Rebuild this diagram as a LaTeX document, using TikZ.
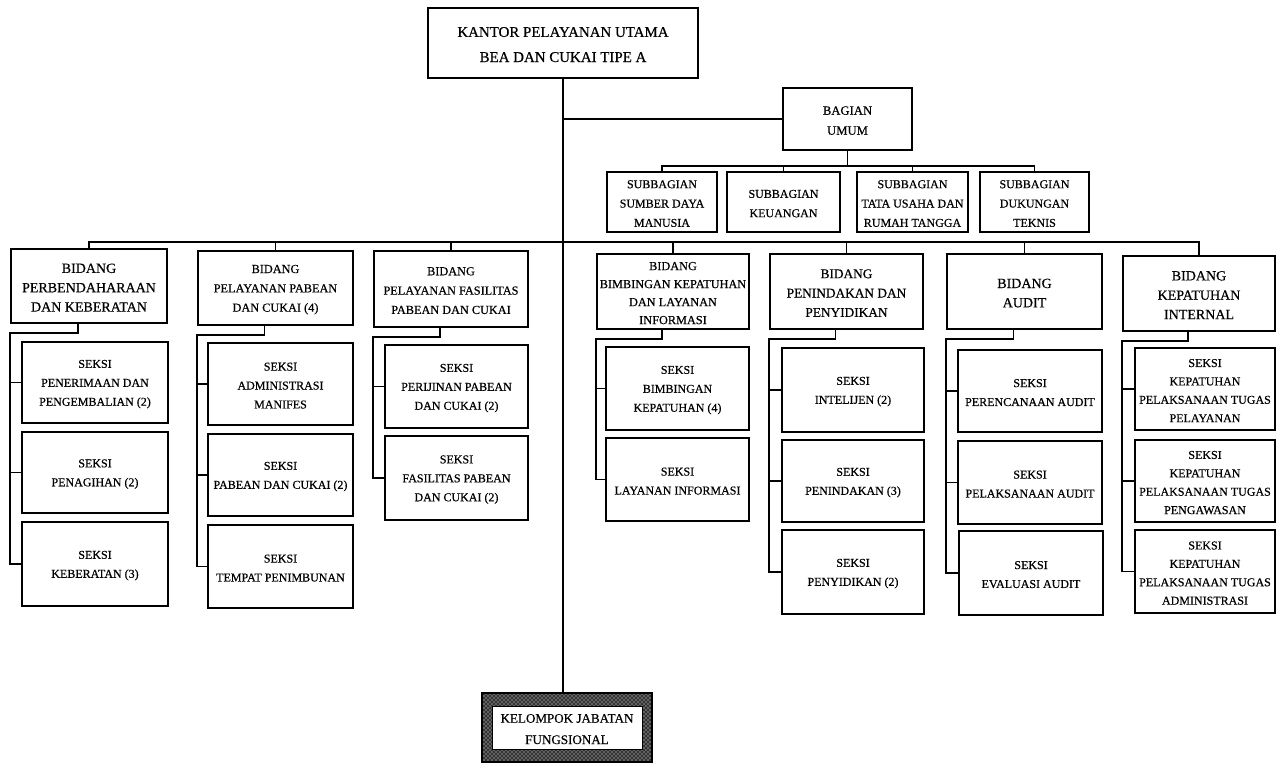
\documentclass[tikz,border=0pt]{standalone}
\usepackage{fontspec}
\setmainfont{Liberation Serif}[FakeBold=0.5]
\usetikzlibrary{fit,patterns}
\tikzset{
  boxst/.style={draw, line width=1.3pt, inner sep=0pt},
  txt/.style={inner sep=0pt, align=center, font=\fontsize{9}{14.2}\selectfont},
  bid/.style={font=\fontsize{9.2}{14.5}\selectfont},
  bidL/.style={font=\fontsize{10.5}{14.5}\selectfont},
  four/.style={font=\fontsize{9}{13.8}\selectfont},
  sub/.style={font=\fontsize{9}{14.5}\selectfont},
  conn/.style={line width=1.1pt},
}
\newcommand\bx[7][]{\node[boxst,fit={(#3,#4) (#5,#6)}] (#2) {};
  \node[txt,#1] (#2t) at ([yshift=-1.2pt]#2.center) {#7};}
\begin{document}
\begin{tikzpicture}[x=0.75pt,y=-0.75pt]
\useasboundingbox[fill=white] (0,0) rectangle (1277,764);
% top
\bx[font=\fontsize{11.2}{18.8}\selectfont]{kantor}{428}{8}{698}{78}{KANTOR PELAYANAN UTAMA\\BEA DAN CUKAI TIPE A}
\bx[font=\fontsize{9.5}{15}\selectfont]{bagian}{783}{88}{912}{150}{BAGIAN\\UMUM}
\bx[sub]{sdm}{607}{172}{717}{232}{SUBBAGIAN\\SUMBER DAYA\\MANUSIA}
\bx[sub]{keu}{727}{172}{840}{232}{SUBBAGIAN\\KEUANGAN}
\bx[sub]{tu}{857}{172}{968}{232}{SUBBAGIAN\\TATA USAHA DAN\\RUMAH TANGGA}
\bx[sub]{dt}{980}{172}{1089}{232}{SUBBAGIAN\\DUKUNGAN\\TEKNIS}
% bidang
\bx[bidL]{b1}{11}{249}{167}{323}{BIDANG\\PERBENDAHARAAN\\DAN KEBERATAN}
\bx[bid]{b2}{198}{251}{353}{325}{BIDANG\\PELAYANAN PABEAN\\DAN CUKAI (4)}
\bx[bid]{b3}{374}{251}{528}{327}{BIDANG\\PELAYANAN FASILITAS\\PABEAN DAN CUKAI}
\bx[font=\fontsize{9.2}{13.5}\selectfont]{b4}{597}{254}{749}{329}{BIDANG\\BIMBINGAN KEPATUHAN\\DAN LAYANAN\\INFORMASI}
\bx[font=\fontsize{10}{14.5}\selectfont]{b5}{770}{254}{923}{329}{BIDANG\\PENINDAKAN DAN\\PENYIDIKAN}
\bx[bidL]{b6}{947}{254}{1102}{329}{BIDANG\\AUDIT}
\bx[bidL]{b7}{1123}{256}{1275}{331}{BIDANG\\KEPATUHAN\\INTERNAL}
% seksi
\bx{s1a}{22}{342}{168}{423}{SEKSI\\PENERIMAAN DAN\\PENGEMBALIAN (2)}
\bx{s1b}{22}{432}{168}{513}{SEKSI\\PENAGIHAN (2)}
\bx{s1c}{22}{522}{168}{606}{SEKSI\\KEBERATAN (3)}
\bx{s2a}{208}{343}{353}{425}{SEKSI\\ADMINISTRASI\\MANIFES}
\bx{s2b}{208}{434}{353}{516}{SEKSI\\PABEAN DAN CUKAI (2)}
\bx{s2c}{208}{525}{353}{608}{SEKSI\\TEMPAT PENIMBUNAN}
\bx{s3a}{385}{345}{528}{428}{SEKSI\\PERIJINAN PABEAN\\DAN CUKAI (2)}
\bx{s3b}{385}{436}{528}{520}{SEKSI\\FASILITAS PABEAN\\DAN CUKAI (2)}
\bx{s4a}{606}{347}{749}{430}{SEKSI\\BIMBINGAN\\KEPATUHAN (4)}
\bx{s4b}{606}{438}{749}{521}{SEKSI\\LAYANAN INFORMASI}
\bx{s5a}{782}{348}{924}{432}{SEKSI\\INTELIJEN (2)}
\bx{s5b}{782}{440}{924}{522}{SEKSI\\PENINDAKAN (3)}
\bx{s5c}{782}{530}{924}{614}{SEKSI\\PENYIDIKAN (2)}
\bx{s6a}{958}{350}{1102}{432}{SEKSI\\PERENCANAAN AUDIT}
\bx{s6b}{958}{441}{1102}{524}{SEKSI\\PELAKSANAAN AUDIT}
\bx{s6c}{959}{531}{1103}{615}{SEKSI\\EVALUASI AUDIT}
\bx[four]{s7a}{1135}{348}{1275}{430}{SEKSI\\KEPATUHAN\\PELAKSANAAN TUGAS\\PELAYANAN}
\bx[four]{s7b}{1135}{440}{1275}{522}{SEKSI\\KEPATUHAN\\PELAKSANAAN TUGAS\\PENGAWASAN}
\bx[four]{s7c}{1135}{530}{1275}{613}{SEKSI\\KEPATUHAN\\PELAKSANAAN TUGAS\\ADMINISTRASI}
% kelompok
\fill[black!80, even odd rule] (482,693) rectangle (652,762) (492,706) rectangle (642,749);
\fill[pattern=crosshatch dots, pattern color=white, even odd rule] (482,693) rectangle (652,762) (492,706) rectangle (642,749);
\draw[line width=0.6pt] (492,706) rectangle (642,749);
\bx[font=\fontsize{9.8}{16}\selectfont]{kel}{482}{693}{652}{762}{KELOMPOK JABATAN\\FUNGSIONAL}
% connectors
\coordinate (sb) at (0,166);
\coordinate (mb) at (0,242);
\draw[conn] (kantor.south) -- (kantor.south |- kel.north);
\draw[conn] (kantor.south |- bagian.west) -- (bagian.west);
\draw[conn] (bagian.south) -- (bagian.south |- sb);
\draw[conn] (sdm.north) -- (sdm.north |- sb) -- (dt.north |- sb) -- (dt.north);
\draw[conn] (keu.north) -- (keu.north |- sb);
\draw[conn] (tu.north) -- (tu.north |- sb);
\draw[conn] (b1.north) -- (b1.north |- mb) -- (b7.north |- mb) -- (b7.north);
\foreach \b in {b2,b3,b4,b5,b6} \draw[conn] (\b.north) -- (\b.north |- mb);
% rails
\foreach \b/\last in {b1/s1c,b2/s2c,b3/s3b,b4/s4b,b5/s5c,b6/s6c,b7/s7c}
  \draw[conn] ([xshift=-8.25pt]\b.south) -- ++(0,9) -| (\b.south west |- \last.west) -- (\last.west);
\foreach \b/\s in {b1/s1a,b1/s1b,b2/s2a,b2/s2b,b3/s3a,b4/s4a,b5/s5a,b5/s5b,b6/s6a,b6/s6b,b7/s7a,b7/s7b}
  \draw[conn] (\b.south west |- \s.west) -- (\s.west);
\end{tikzpicture}
\end{document}
